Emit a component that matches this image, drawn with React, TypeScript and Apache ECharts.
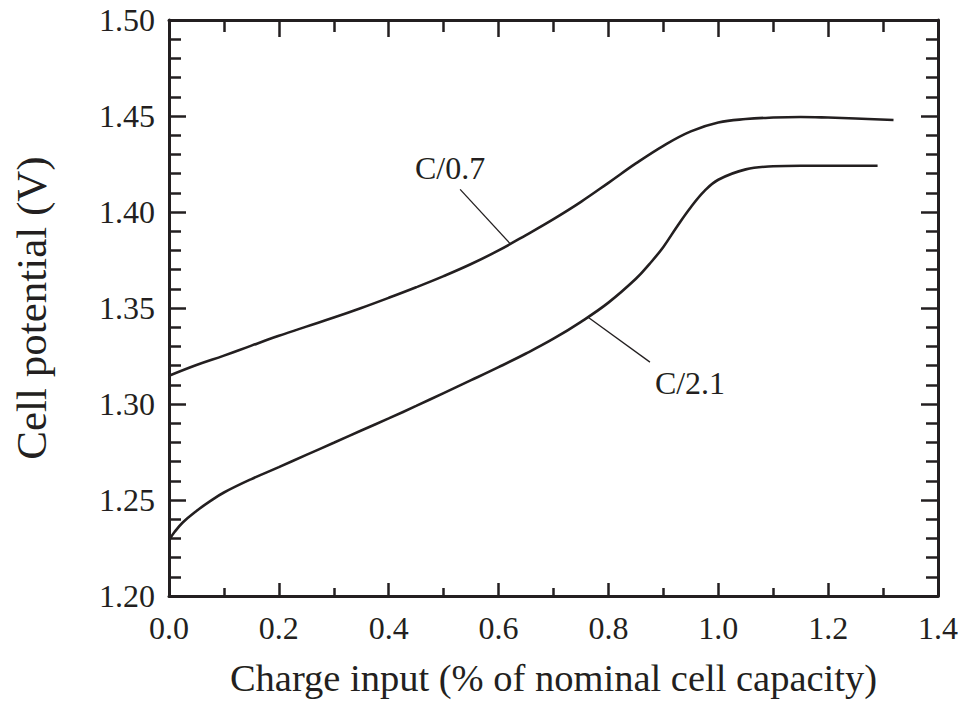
import React, { useEffect, useRef } from "react";
import * as echarts from "echarts";

const upperX = [0.0, 0.05, 0.1, 0.15, 0.2, 0.25, 0.3, 0.35, 0.4, 0.45, 0.5, 0.55, 0.6, 0.65, 0.7, 0.75, 0.8, 0.85, 0.9, 0.95, 1.0, 1.05, 1.1, 1.15, 1.2, 1.25, 1.319];
const upperY = [1.3147, 1.3203, 1.3252, 1.3304, 1.3355, 1.3403, 1.345, 1.35, 1.3553, 1.3608, 1.3666, 1.3729, 1.38, 1.388, 1.3963, 1.4053, 1.4152, 1.4253, 1.4345, 1.442, 1.4466, 1.4484, 1.4492, 1.4495, 1.4492, 1.4487, 1.4479];

const lowerX = [0.0, 0.01, 0.025, 0.05, 0.075, 0.1, 0.15, 0.2, 0.25, 0.3, 0.35, 0.4, 0.45, 0.5, 0.55, 0.6, 0.65, 0.7, 0.75, 0.8, 0.85, 0.875, 0.9, 0.925, 0.95, 0.975, 1.0, 1.05, 1.1, 1.15, 1.29];
const lowerY = [1.229, 1.2333, 1.2383, 1.2443, 1.2494, 1.2539, 1.2609, 1.2671, 1.2735, 1.2798, 1.2862, 1.2925, 1.299, 1.3057, 1.3124, 1.3192, 1.3263, 1.334, 1.3428, 1.3528, 1.3652, 1.373, 1.3818, 1.3925, 1.4025, 1.411, 1.4168, 1.4222, 1.4238, 1.4241, 1.4241];

const seriesNames = ["C/0.7", "C/2.1"];
// leader line ends (data units) and label anchor
const leaderUpper = [[0.53, 1.4118], [0.621, 1.3835]];
const labelUpper = [0.5116, 1.4228];
const leaderLower = [[0.763, 1.3452], [0.8756, 1.3218]];
const labelLower = [0.9485, 1.3108];

const xMin = 0, xMax = 1.4, xStep = 0.2;
const yMin = 1.2, yMax = 1.5, yStep = 0.05;

const INK = "#231f20";
const FONT = "'Liberation Serif', 'Times New Roman', 'DejaVu Serif', serif";

export default function App() {
  const ref = useRef<HTMLDivElement>(null);
  useEffect(() => {
    const chart = echarts.init(ref.current!, null, { renderer: "svg" });
    const zip = (xs: number[], ys: number[]) => xs.map((x, i) => [x, ys[i]]);
    const xBase = (show: boolean, pos: string, major: number, minor: number) => ({
      type: "value",
      position: pos,
      min: xMin,
      max: xMax,
      interval: xStep,
      axisLine: { show: true, onZero: false, lineStyle: { color: INK, width: 3 } },
      axisTick: { show: true, inside: true, length: major, lineStyle: { color: INK, width: 2.5 } },
      minorTick: { show: true, splitNumber: 2, length: minor, lineStyle: { color: INK, width: 2.5 } },
      splitLine: { show: false },
      axisLabel: {
        show,
        margin: 16,
        fontFamily: FONT,
        fontSize: 32,
        color: INK,
        formatter: (v: number) => v.toFixed(1),
      },
    });
    const yBase = (show: boolean, pos: string) => ({
      type: "value",
      position: pos,
      min: yMin,
      max: yMax,
      interval: yStep,
      axisLine: { show: true, onZero: false, lineStyle: { color: INK, width: 3 } },
      axisTick: { show: true, inside: true, length: 17, lineStyle: { color: INK, width: 2.5 } },
      minorTick: { show: true, splitNumber: 5, length: 12, lineStyle: { color: INK, width: 2.5 } },
      splitLine: { show: false },
      axisLabel: {
        show,
        margin: 14,
        fontFamily: FONT,
        fontSize: 32,
        color: INK,
        formatter: (v: number) => v.toFixed(2),
      },
    });
    const leader = (pts: number[][]) => ({
      silent: true,
      symbol: ["none", "none"],
      label: { show: false },
      lineStyle: { color: INK, width: 1.3, type: "solid" },
      data: [[{ coord: pts[0] }, { coord: pts[1] }]],
    });
    const tag = (name: string, at: number[]) => ({
      silent: true,
      symbol: "circle",
      symbolSize: 0,
      label: {
        show: true,
        position: "inside",
        formatter: name,
        fontFamily: FONT,
        fontSize: 32,
        color: INK,
      },
      data: [{ coord: at }],
    });
    chart.setOption({
      animation: false,
      backgroundColor: "#ffffff",
      textStyle: { fontFamily: FONT },
      grid: { left: 169, top: 20, right: 26, bottom: 108, containLabel: false },
      xAxis: [
        {
          ...xBase(true, "bottom", 13, 8),
          name: "Charge input (% of nominal cell capacity)",
          nameLocation: "middle",
          nameGap: 62,
          nameTextStyle: { fontFamily: FONT, fontSize: 38.5, color: INK },
        },
        xBase(false, "top", 17, 12),
      ],
      yAxis: [
        {
          ...yBase(true, "left"),
          name: "Cell potential (V)",
          nameLocation: "middle",
          nameGap: 116,
          nameRotate: 90,
          nameTextStyle: { fontFamily: FONT, fontSize: 43, color: INK },
        },
        yBase(false, "right"),
      ],
      series: [
        {
          name: seriesNames[0],
          type: "line",
          data: zip(upperX, upperY),
          showSymbol: false,
          smooth: 0.4,
          lineStyle: { color: INK, width: 2.6 },
          markLine: leader(leaderUpper),
          markPoint: tag(seriesNames[0], labelUpper),
        },
        {
          name: seriesNames[1],
          type: "line",
          data: zip(lowerX, lowerY),
          showSymbol: false,
          smooth: 0.4,
          lineStyle: { color: INK, width: 2.6 },
          markLine: leader(leaderLower),
          markPoint: tag(seriesNames[1], labelLower),
        },
      ],
    });
    return () => chart.dispose();
  }, []);
  return (
    <div
      ref={ref}
      style={{ position: "fixed", left: 0, top: 0, width: 964, height: 704, background: "#fff" }}
    />
  );
}
